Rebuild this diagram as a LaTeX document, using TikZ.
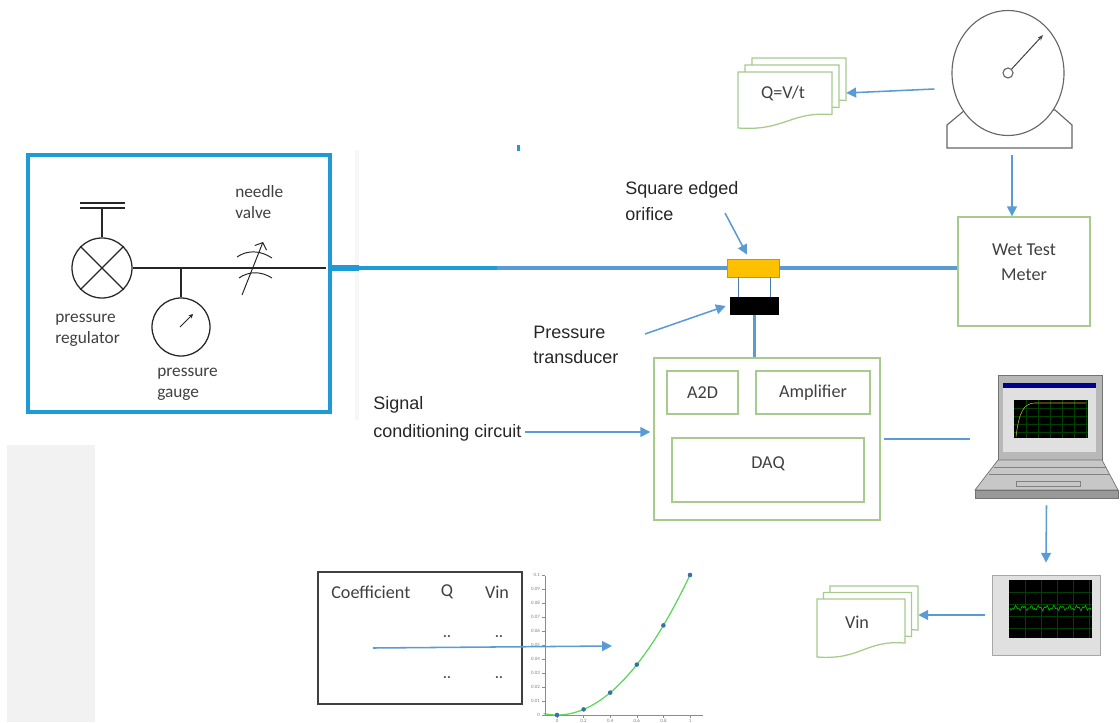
\documentclass[tikz,border=0pt]{standalone}
\usepackage{fontspec}
\setmainfont{Carlito}
\newfontfamily\arialfont{Liberation Sans}
\usetikzlibrary{arrows.meta,fit,shapes.geometric}

\definecolor{frameblue}{HTML}{1E9BD7}
\definecolor{arrowblue}{HTML}{5B9BD5}
\definecolor{boxgreen}{HTML}{A6CB8C}
\definecolor{orificeorange}{HTML}{FFC000}
\definecolor{orificeedge}{HTML}{C49A00}
\definecolor{labelgray}{HTML}{404040}
\definecolor{calloutgray}{HTML}{262626}
\definecolor{curvegreen}{HTML}{5CD65C}
\definecolor{dotblue}{HTML}{3B6FA8}

\newcommand{\pxu}{0.025cm}
\newcommand{\pipeY}{268}
\newcommand{\symbolLineWidth}{0.9pt}
\newcommand{\pipeLineWidth}{3pt}
\newcommand{\linkLineWidth}{2pt}
\newcommand{\plotX}{557}
\newcommand{\plotY}{715}

% one sheet of a document stack: x, y, width, height
\newcommand{\docsheet}[4]{%
  \draw[boxgreen, line width=0.9pt, fill=white] (#1,#2) -- (#1+#3,#2) -- (#1+#3,#2+0.76*#4)
    .. controls (#1+0.55*#3,#2+0.7*#4) and (#1+0.5*#3,#2+1.06*#4) .. (#1,#2+#4) -- cycle;}
% three sheets, back to front: x, y, width, height, offset
\newcommand{\docstack}[5]{%
  \docsheet{#1+2*#5}{#2-2*#5}{#3}{#4}
  \docsheet{#1+#5}{#2-#5}{#3}{#4}
  \docsheet{#1}{#2}{#3}{#4}}

\tikzset{
  lbl/.style={font=\fontsize{12.9}{17.8}\selectfont, text=labelgray, inner sep=0, align=center},
  smalllbl/.style={font=\fontsize{12.3}{14.8}\selectfont, text=labelgray, align=left, inner sep=0, anchor=west},
  callout/.style={font=\arialfont\fontsize{12.8}{19}\selectfont, text=calloutgray, align=left, inner sep=0, anchor=west},
  ticklbl/.style={font=\fontsize{3.5}{4}\selectfont, text=black!50, inner sep=0.6pt},
  greenbox/.style={draw=boxgreen, line width=1pt, inner sep=0},
  symbol/.style={draw=black!85, line width=\symbolLineWidth},
  meterline/.style={draw=black!60, line width=0.8pt},
  flowarrow/.style={draw=arrowblue, line width=1.1pt, -{Triangle[length=7pt,width=7pt]}},
  pipe/.style={draw=frameblue, line width=\pipeLineWidth},
  link/.style={draw=arrowblue, line width=\linkLineWidth}
}

\begin{document}
\begin{tikzpicture}[x=\pxu, y=-\pxu]
        \useasboundingbox (0,0) rectangle (1120,723);

        % Faint marks on the sheet
        \fill[black!5] (7,445) rectangle (95,722);
        \fill[black!3] (355,150) rectangle (359,420);
        \fill[frameblue] (517,145) rectangle (520,151);

        % Gas supply panel
        \node[fit={(28,155) (330,412)}, draw=frameblue, line width=2.2pt, inner sep=0] (panel) {};
        \node[circle, symbol, minimum size=60*\pxu, inner sep=0] (regulator) at (102,\pipeY) {};
        \draw[symbol] (regulator.north west) -- (regulator.south east);
        \draw[symbol] (regulator.north east) -- (regulator.south west);
        \coordinate (regcap) at (102,208);
        \draw[symbol] (regulator.north) -- (regcap);
        \draw[symbol] (80,208) -- (125,208);
        \draw[symbol] (80,203) -- (125,203);
        \coordinate (panelout) at (326,\pipeY);
        \draw[symbol] (regulator.east) -- (panelout);

        % Gauge on a branch
        \node[circle, symbol, minimum size=58*\pxu, inner sep=0] (gauge) at (181,327) {};
        \draw[symbol] (gauge.north) -- (gauge.north |- regulator.east);
        \draw[symbol, line width=0.7pt, -{Stealth[length=3pt,width=3pt]}] (180,327) -- (193,314);

        % Needle valve
        \coordinate (valve) at (254,\pipeY);
        \draw[symbol, line width=0.7pt] (237,257) .. controls (247,250) and (260,250) .. (272,258);
        \draw[symbol, line width=0.7pt] (239,278) .. controls (249,271) and (261,271) .. (272,278);
        \draw[symbol, line width=0.7pt, -{Straight Barb[length=4pt,width=9pt]}] (242,295) -- (263,242);

        \node[smalllbl] (valvelbl) at (235,202) {needle\\valve};
        \node[smalllbl] (reglbl) at (55,330) {pressure\\regulator};
        \node[smalllbl] (gaugelbl) at (157,384) {pressure\\gauge};

        % Orifice and transducer
        \node[fill=orificeorange, draw=orificeedge, line width=0.6pt, minimum width=52*\pxu, minimum height=18*\pxu, inner sep=0] (orifice) at (753,\pipeY) {};
        \node[fill=black, minimum width=49*\pxu, minimum height=18*\pxu, inner sep=0] (transducer) at (754.5,306) {};
        \draw[arrowblue!80!black, line width=0.6pt] (738,277) -- (738,297);
        \draw[arrowblue!80!black, line width=0.6pt] (770,277) -- (770,297);

        % Wet test meter
        \node[greenbox, fit={(958,217) (1090,326)}] (wtm) {};
        \node[lbl] at (1024,262) {Wet Test\\Meter};

        % Pipe
        \coordinate (pipejoin) at (497,\pipeY);
        \draw[pipe, line width=4pt] (panelout -| panel.east) -- ++(27,0);
        \draw[pipe] (panelout -| panel.east) -- (pipejoin);
        \draw[pipe, draw=arrowblue, line width=2.6pt] (pipejoin) -- (orifice.west);
        \draw[pipe, draw=arrowblue, line width=2.6pt] (orifice.east) -- (orifice.east -| wtm.west);

        \node[callout] (orificelbl) at (625,201) {Square edged\\orifice};
        \coordinate (orificelblout) at (725,213);
        \draw[flowarrow] (orificelblout) -- ([shift={(-6,-4)}]orifice.north);
        \node[callout, font=\arialfont\fontsize{12.8}{17.8}\selectfont] (transducerlbl) at (533,345) {Pressure\\transducer};
        \coordinate (transducerlblout) at (645,334);
        \draw[flowarrow] (transducerlblout) -- ([xshift=-4*\pxu]transducer.west);

        % Acquisition box
        \node[greenbox, fit={(654,358) (880,520)}] (daq) {};
        \node[greenbox, fit={(667,371) (738,414)}] (a2d) {};
        \node[greenbox, fit={(756,371) (870,414)}] (amp) {};
        \node[greenbox, fit={(672,438) (864,502)}] (daqcard) {};
        \node[lbl] at (a2d) {A2D};
        \node[lbl] at (amp) {Amplifier};
        \node[lbl] at (768,464) {DAQ};
        \draw[link] (transducer.south) -- (transducer.south |- daq.north);

        \node[callout, font=\arialfont\fontsize{12.8}{20}\selectfont] (signallbl) at (373,419) {Signal\\conditioning circuit};
        \coordinate (signalout) at (525,432);
        \draw[flowarrow] (signalout) -- ([xshift=-3*\pxu]signalout -| daq.west);

        % Laptop
        \node[fit={(975,375) (1118,498)}, inner sep=0] (laptop) {};
        \filldraw[fill=black!28, draw=black!55, line width=0.5pt] (998,375) rectangle (1102,460);
        \fill[black!12] (1003,383) rectangle (1096,452);
        \fill[blue!55!black] (1003,383) rectangle (1096,388);
        \fill[black] (1014,400) rectangle (1088,438);
        \foreach \gx in {1026,1038,...,1086}
            \draw[green!25!black, line width=0.2pt] (\gx,400) -- (\gx,438);
        \foreach \gy in {408,416,...,436}
            \draw[green!25!black, line width=0.2pt] (1014,\gy) -- (1088,\gy);
        \draw[yellow!70!black, line width=0.4pt] (1016,437) .. controls (1019,411) and (1024,404) .. (1034,403) -- (1086,403);
        \filldraw[fill=black!22, draw=black!55, line width=0.5pt] (998,460) -- (1102,460) -- (1118,490) -- (975,490) -- cycle;
        \filldraw[fill=black!40, draw=black!55, line width=0.5pt] (975,490) rectangle (1118,498);
        \draw[black!50, line width=0.4pt] (994,467) -- (1106,467);
        \draw[black!50, line width=0.4pt] (989,474) -- (1110,474);
        \draw[black!50, line width=0.4pt] (1016,481) rectangle (1080,486);
        \draw[link] ([xshift=3*\pxu]daq.east) -- ([xshift=-5*\pxu]daq.east -| laptop.west);

        % Scope trace of Vin
        \node[fit={(992,575) (1100,655)}, fill=black!12, draw=black!35, line width=0.5pt, inner sep=0] (vinscreen) {};
        \fill[black] (1009,580) rectangle (1092,638);
        \foreach \gx in {1025,1041,...,1089}
            \draw[green!25!black, line width=0.2pt] (\gx,580) -- (\gx,638);
        \foreach \gy in {592,604,...,636}
            \draw[green!25!black, line width=0.2pt] (1009,\gy) -- (1092,\gy);
        \draw[green!70!black, line width=0.5pt] plot[domain=0:81, samples=90] ({1010+\x}, {608 + 1.6*sin(\x*47) + 1.2*sin(\x*113)});
        \draw[flowarrow] ([yshift=-7*\pxu]laptop.south) -- ([yshift=12*\pxu]vinscreen.north);

        % Document stacks
        \docstack{817}{599}{88}{58}{6.5}
        \node[fit={(817,586) (918,657)}, inner sep=0] (vindoc) {};
        \node[lbl] at (857,622) {Vin};
        \draw[flowarrow] ([xshift=-7*\pxu]vinscreen.west) -- (vindoc.east |- vinscreen.west);

        \docstack{738}{72}{94}{56}{7}
        \node[fit={(738,58) (846,128)}, inner sep=0] (qvtdoc) {};
        \node[lbl] at (783,93) {Q=V/t};

        % Gas meter
        \draw[meterline, fill=white] (947,148) -- (947,125) -- (965,110) -- (1055,110) -- (1072,125) -- (1072,148) -- cycle;
        \node[ellipse, meterline, fill=white, minimum width=112*\pxu, minimum height=125*\pxu, inner sep=0] (meter) at (1008,73) {};
        \node[circle, meterline, minimum size=10*\pxu, inner sep=0] (hub) at (meter.center) {};
        \draw[meterline, line width=0.7pt, draw=black!75, -{Stealth[length=4pt,width=3pt]}] (hub) -- (1043,35);
        \coordinate (meterfoot) at (1012,148);
        \draw[flowarrow] ([yshift=-7*\pxu]meterfoot) -- (meterfoot |- wtm.north);
        \draw[flowarrow] ([shift={(-17,16)}]meter.west) -- (qvtdoc.east);

        % Coefficient table
        \node[fit={(318,572) (522,704)}, draw=black!75, line width=1pt, inner sep=0] (coeftable) {};
        \node[lbl, anchor=west] at (331,592) {Coefficient};
        \node[lbl] at (447,592) {Q};
        \node[lbl] at (497,592) {Vin};
        \foreach \cx in {447,499}
            \foreach \cy in {637,678}
                \node[lbl, text=black!70, font=\bfseries\fontsize{10}{11}\selectfont] at (\cx,\cy) {..};

        % Calibration curve
        \draw[black!45, line width=0.4pt] (545,576) -- (545,\plotY) -- (703,\plotY);
        \foreach \t [count=\i from 0] in {0,0.01,0.02,0.03,0.04,0.05,0.06,0.07,0.08,0.09,0.1} {
            \draw[black!45, line width=0.3pt] (545,\plotY-14*\i) -- (542,\plotY-14*\i);
            \node[ticklbl, anchor=east] at (541,\plotY-14*\i) {\t};
        }
        \foreach \t [count=\i from 0] in {0,0.2,0.4,0.6,0.8,1} {
            \draw[black!45, line width=0.3pt] (\plotX+26.6*\i,\plotY) -- (\plotX+26.6*\i,\plotY+3);
            \node[ticklbl, anchor=north] at (\plotX+26.6*\i,\plotY+3) {\t};
        }
        \draw[curvegreen, line width=0.9pt] plot[domain=-0.1:1, samples=50] ({\plotX+133*\x}, {\plotY-140*\x*\x});
        \foreach \i in {0,0.2,0.4,0.6,0.8,1}
            \fill[dotblue] ({\plotX+133*\i}, {\plotY-140*\i*\i}) circle[radius=2.3];

        \coordinate (fitstart) at (373,648);
        \coordinate (fitend) at (612,646);
        \draw[flowarrow] (fitstart) -- (fitend);
    \end{tikzpicture}
\end{document}
